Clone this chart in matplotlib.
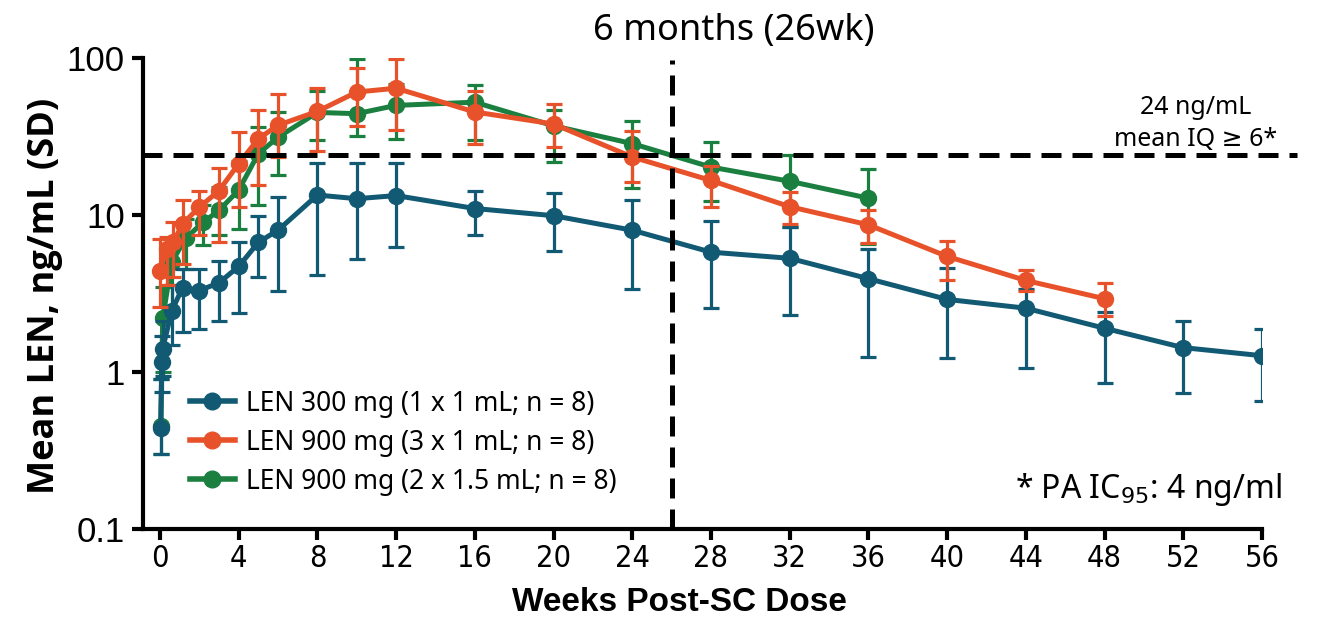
import numpy as np
import matplotlib
matplotlib.use("Agg")
import matplotlib.pyplot as plt
from matplotlib.lines import Line2D
from matplotlib.ticker import NullLocator, FixedLocator, FixedFormatter

# mean LEN concentration (ng/mL) with lower / upper SD limits, per dose group

# LEN 300 mg (1 x 1 mL)
weeks_300 = [0.04, 0.09, 0.14, 0.6, 1.15, 2, 3, 4, 5, 6, 8, 10, 12, 16, 20, 24, 28, 32, 36, 40, 44, 48, 52, 56]
mean_300 = [0.44, 1.16, 1.41, 2.45, 3.45, 3.3, 3.7, 4.7, 6.7, 8.0, 13.4, 12.7, 13.3, 11.0, 9.9, 8.0, 5.8, 5.3, 3.93, 2.9, 2.55, 1.9, 1.43, 1.27]
low_300 = [0.3, 0.75, 0.95, 1.48, 1.8, 1.87, 2.1, 2.39, 4.0, 3.3, 4.16, 5.27, 6.25, 7.5, 5.87, 3.36, 2.55, 2.3, 1.25, 1.22, 1.06, 0.85, 0.73, 0.65]
high_300 = [0.9, 1.7, 2.1, 3.6, 4.5, 4.55, 5.1, 6.7, 9.9, 13.0, 21.5, 21.5, 21.5, 14.3, 13.8, 12.4, 9.2, 8.4, 6.05, 4.6, 3.4, 2.4, 2.1, 1.89]

# LEN 900 mg (3 x 1 mL)
weeks_900a = [0, 0.34, 0.68, 1.15, 2, 3, 4, 5, 6, 8, 10, 12, 16, 20, 24, 28, 32, 36, 40, 44, 48]
mean_900a = [4.4, 6.1, 6.7, 8.8, 11.2, 14.3, 21.2, 30.6, 37.3, 45.7, 60.7, 64.2, 45.3, 38.0, 23.4, 16.6, 11.3, 8.66, 5.45, 3.83, 2.93]
low_900a = [2.6, 3.6, 4.0, 4.9, 7.5, 6.7, 11.2, 15.6, 23.4, 25.5, 36.8, 35.0, 28.5, 27.0, 16.2, 11.2, 8.8, 6.65, 3.83, 3.26, 2.26]
high_900a = [7.0, 7.2, 9.0, 12.4, 14.3, 20.0, 33.7, 46.5, 59.3, 64.2, 86.8, 98.4, 61.5, 50.6, 34.1, 20.5, 14.1, 10.8, 6.8, 4.44, 3.71]

# LEN 900 mg (2 x 1.5 mL)
weeks_900b = [0.04, 0.14, 0.6, 1.3, 2.2, 3, 4, 5, 6, 8, 10, 12, 16, 20, 24, 28, 32, 36]
mean_900b = [0.45, 2.2, 5.0, 7.1, 9.0, 10.7, 14.4, 24.6, 31.3, 45.0, 44.2, 49.9, 52.3, 37.0, 28.5, 20.2, 16.4, 12.8]
low_900b = [0.3, 1.0, 2.5, 4.5, 6.4, 7.5, 8.2, 11.6, 17.9, 30.0, 32.0, 30.5, 30.2, 21.8, 14.8, 12.2, 8.4, 6.5]
high_900b = [0.9, 3.5, 7.0, 9.5, 11.5, 15.0, 22.0, 36.4, 45.0, 62.0, 98.0, 68.5, 67.6, 46.5, 39.6, 29.0, 24.0, 19.5]

labels = ["LEN 300 mg (1 x 1 mL; n = 8)",
          "LEN 900 mg (3 x 1 mL; n = 8)",
          "LEN 900 mg (2 x 1.5 mL; n = 8)"]
colors = ["#125a74", "#e8522a", "#1b7f40"]

threshold = 24      # ng/mL, mean IQ >= 6
six_months = 26     # weeks

x_ticks = list(range(0, 57, 4))
y_ticks = [0.1, 1, 10, 100]
y_tick_labels = ["0.1", "1", "10", "100"]

text_font = ["Noto Sans", "DejaVu Sans"]

fig = plt.figure(figsize=(13.17, 6.17), dpi=100)
ax = fig.add_axes([0.1086, 0.1426, 0.8496, 0.7634])

series = [(weeks_300, mean_300, low_300, high_300),
          (weeks_900a, mean_900a, low_900a, high_900a),
          (weeks_900b, mean_900b, low_900b, high_900b)]
z_order = [4, 5, 3]

for (w, m, lo, hi), col, z in zip(series, colors, z_order):
  m = np.array(m)
  yerr = [m - np.array(lo), np.array(hi) - m]
  ax.errorbar(w, m, yerr=yerr, color=col, lw=3.6, marker="o", ms=11.5,
              elinewidth=2.3, capsize=6, capthick=2.3, zorder=z)

# reference lines: target concentration and 6 month mark
ax.plot([-0.9, 57.8], [threshold, threshold], color="black", lw=3.6,
        dashes=(4, 2.2), clip_on=False, zorder=10)
ax.axvline(six_months, ymin=0, ymax=0.995, color="black", lw=3.6,
           dashes=(4, 2.2), zorder=10)

ax.set_yscale("log")
ax.set_ylim(0.1, 100)
ax.set_xlim(-0.86, 56)
ax.yaxis.set_major_locator(FixedLocator(y_ticks))
ax.yaxis.set_major_formatter(FixedFormatter(y_tick_labels))
ax.yaxis.set_minor_locator(NullLocator())
ax.set_xticks(x_ticks)

for side in ["top", "right"]:
  ax.spines[side].set_visible(False)
for side in ["left", "bottom"]:
  ax.spines[side].set_linewidth(3)
ax.tick_params(width=3, length=8, color="black")
ax.tick_params(axis="y", labelsize=25, pad=5)
ax.tick_params(axis="x", labelsize=22, pad=3)
for t in ax.get_yticklabels():
  t.set_family("Liberation Sans")
for t in ax.get_xticklabels():
  t.set_family("DejaVu Sans")
  t.set_fontstretch("condensed")

fig.text(0.034, 0.52, "Mean LEN, ng/mL (SD)", rotation=90, ha="center", va="center",
         fontsize=26, fontweight="bold", family=["Open Sans", "DejaVu Sans"])
fig.text(0.516, 0.024, "Weeks Post-SC Dose", ha="center", va="center",
         fontsize=24, fontweight="bold", family="Liberation Sans")
fig.text(0.557, 0.950, "6 months (26wk)", ha="center", va="center",
         fontsize=26, family=text_font)
fig.text(0.908, 0.80, "24 ng/mL\nmean IQ ≥ 6*", ha="center", va="center",
         fontsize=18, family=text_font, multialignment="center", linespacing=1.35)
fig.text(0.973, 0.206, "* PA IC$_{95}$: 4 ng/ml", ha="right", va="center",
         fontsize=23, family=text_font)

# legend entries drawn as plain line + marker
handles = [Line2D([], [], color=c, lw=4, marker="o", ms=12) for c in colors]
leg = ax.legend(handles, labels, loc="upper left", bbox_to_anchor=(0.134, 0.39),
                bbox_transform=fig.transFigure, frameon=False, fontsize=19,
                handlelength=1.7, handletextpad=0.45, labelspacing=0.42, borderpad=0)
for t in leg.get_texts():
  t.set_family(text_font)

fig.savefig("out.png", dpi=100)
